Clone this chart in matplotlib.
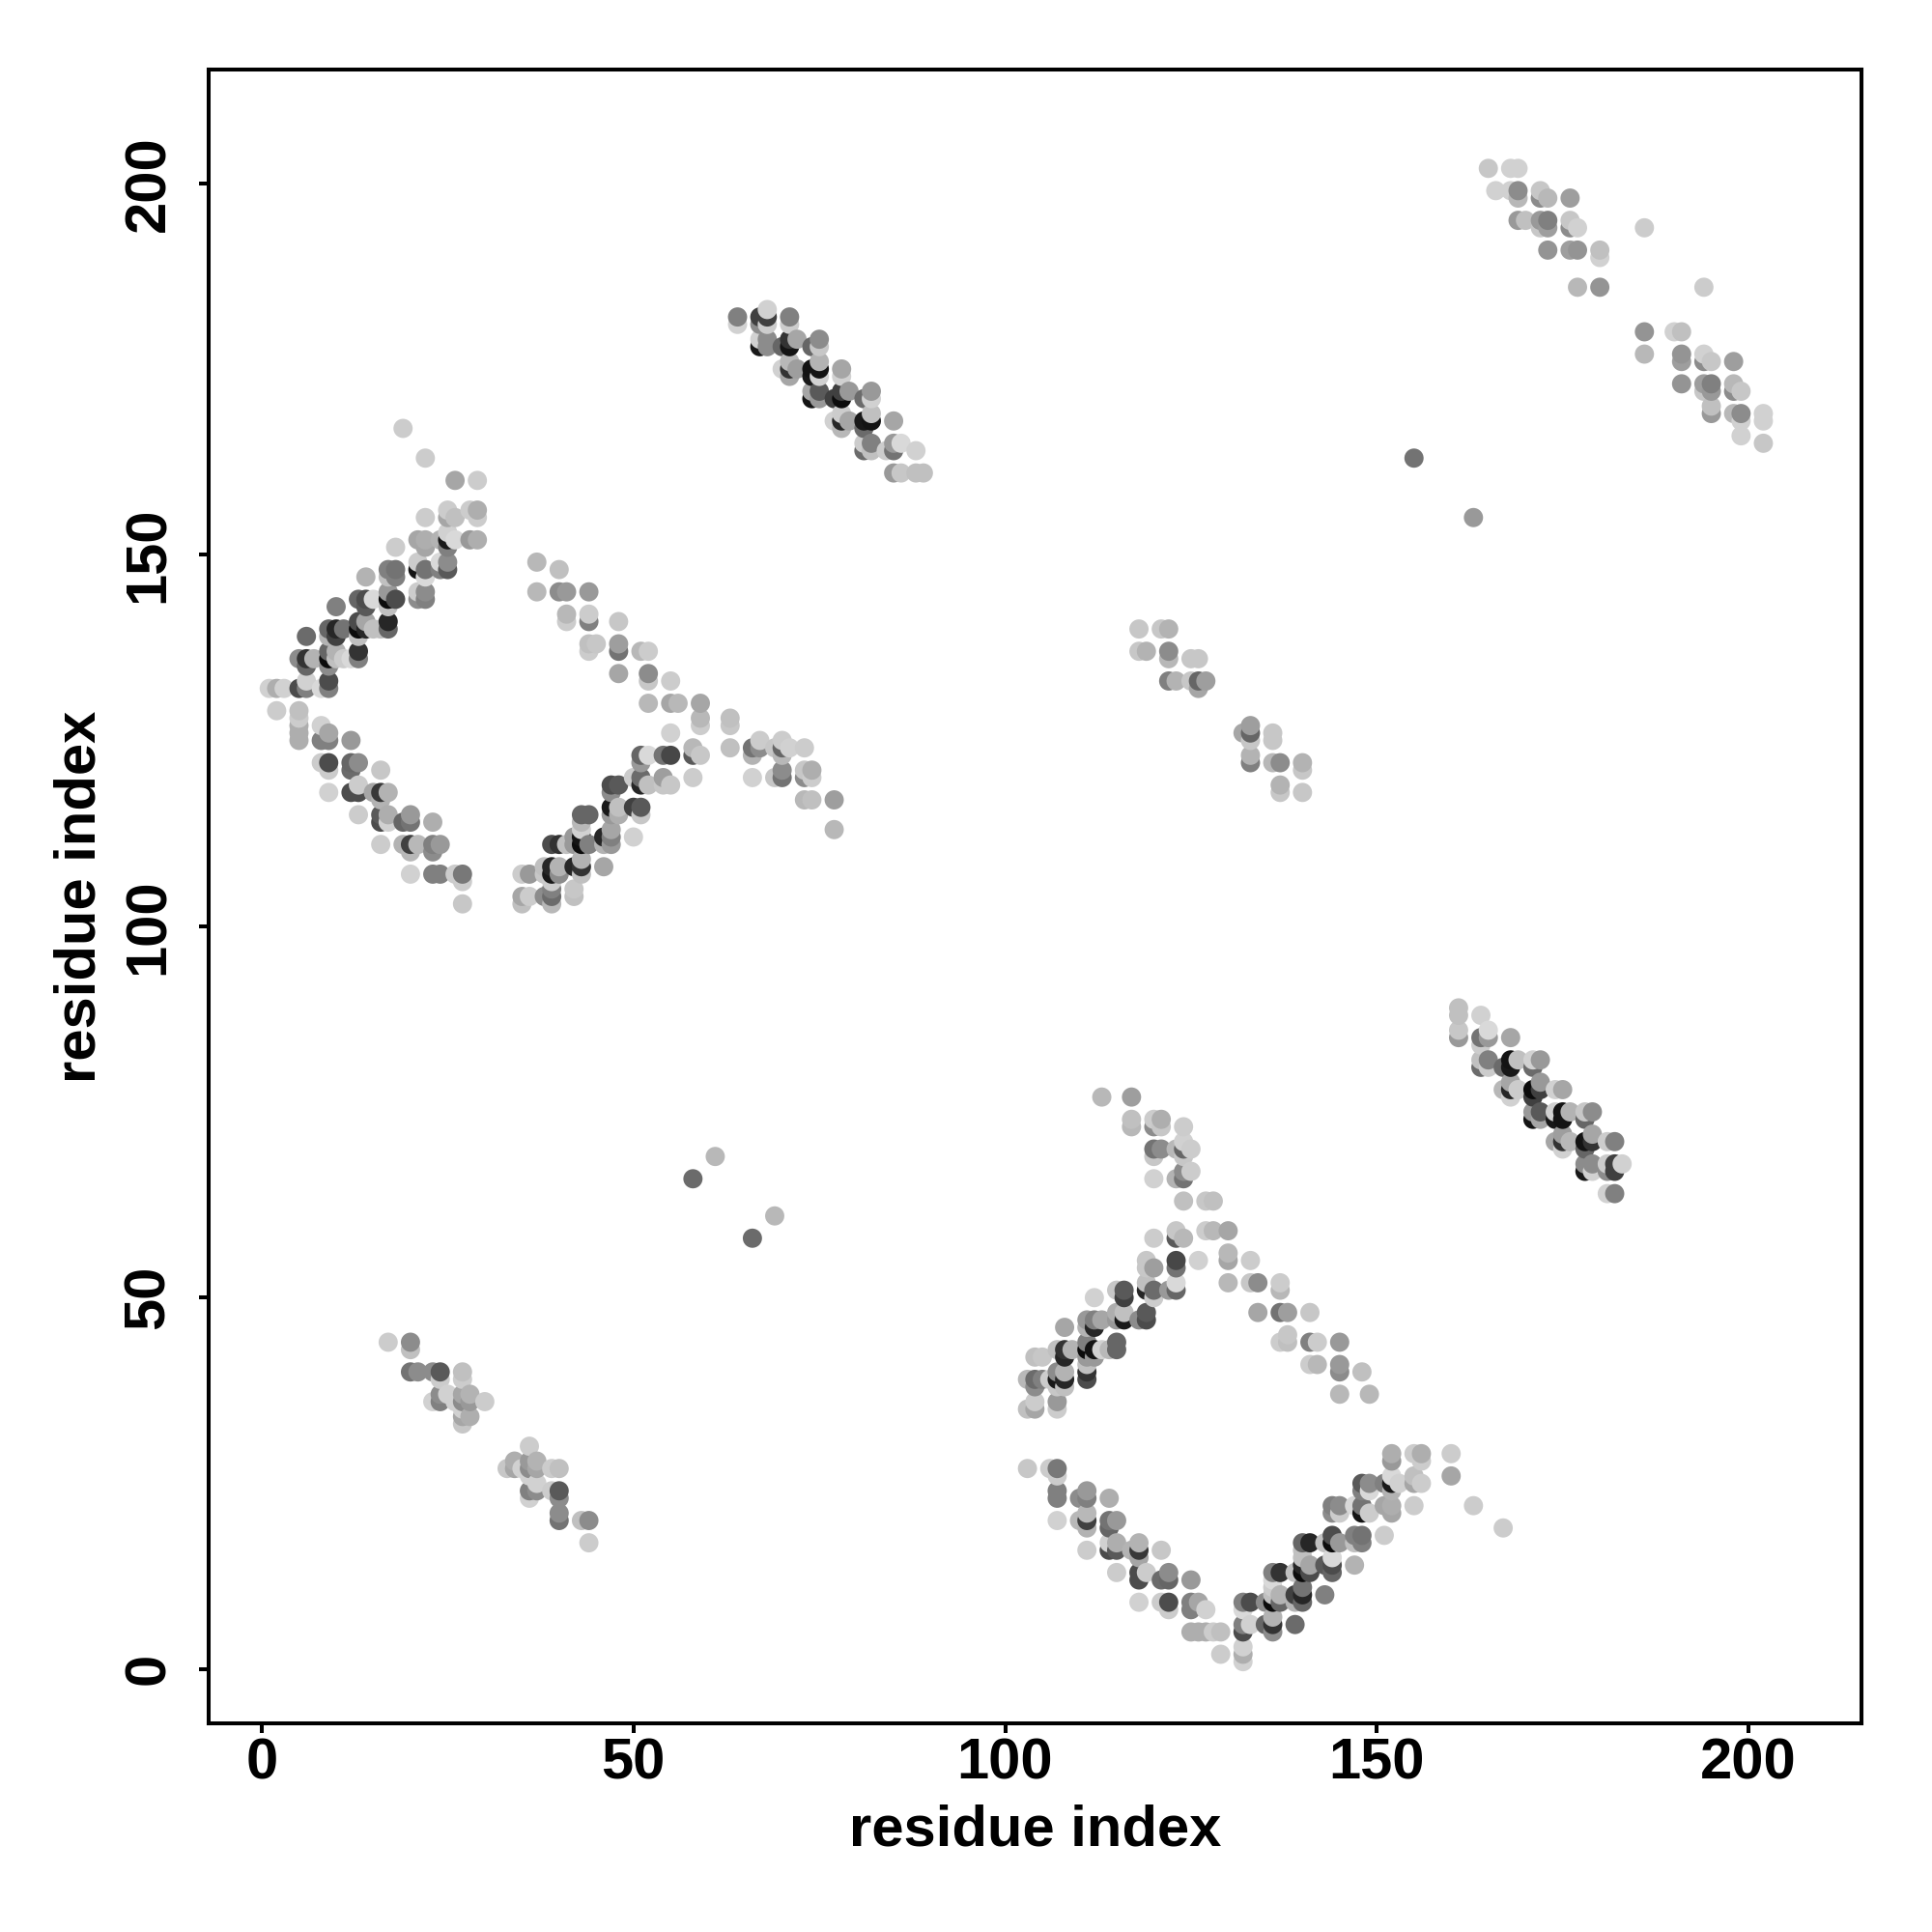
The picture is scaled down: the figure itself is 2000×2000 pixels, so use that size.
import numpy as np
import matplotlib
matplotlib.use("Agg")
import matplotlib.pyplot as plt

# contacts as (i, j, grey level), i > j. the map is symmetric so the other half is mirrored below
sheet_low = [
    (103,27,.78),(106,27,.8),(107,27,.47),(107,26,.8),(107,24,.5),(107,23,.5),(110,23,.55),(111,24,.6),
    (111,23,.5),(114,23,.68),(107,20,.82),(110,20,.72),(111,21,.72),(111,20,.25),(111,19,.7),(114,20,.45),
    (115,20,.6),(114,19,.4),(111,16,.8),(114,17,.82),(114,16,.3),(115,17,.68),(115,16,.35),(117,16,.7),
    (118,17,.7),(118,16,.22),(118,15,.65),(121,16,.78),(115,13,.8),(118,13,.3),(118,12,.3),(119,13,.8),
    (121,12,.42),(122,13,.55),(122,12,.4),(125,12,.6),(118,9,.82),(121,9,.8),(122,9,.3),(122,8,.8),
    (125,9,.5),(125,8,.5),(126,9,.65),(127,8,.82),(125,5,.68),(126,5,.68),(127,5,.68),(128,5,.8),
    (129,5,.75),(129,2,.8),
]
sheet_high = [
    (132,9,.5),(133,9,.3),(132,8,.85),(132,6,.5),(132,5,.3),(133,6,.82),(132,3,.82),(132,2,.68),(132,1,.82),
    (135,9,.55),(136,13,.5),(137,13,.2),(136,12,.85),(136,11,.8),(136,10,.75),(136,9,.05),(137,10,.7),(137,9,.4),
    (135,6,.4),(136,7,.7),(136,6,.2),(136,5,.55),(139,6,.42),(139,10,.25),(139,9,.7),(140,11,.45),(140,10,.15),
    (140,9,.4),(143,10,.5),(140,17,.4),(141,17,.15),(140,16,.75),(140,15,.75),(140,14,.15),(140,13,.05),
    (141,14,.65),(141,13,.3),(139,13,.75),(143,14,.35),(144,14,.3),(144,13,.4),(144,15,.85),(143,17,.75),
    (144,17,.05),(144,18,.3),(145,17,.6),(147,14,.7),(144,22,.5),(145,22,.55),(144,21,.55),(145,21,.8),
    (147,18,.5),(148,18,.45),(148,17,.5),(147,17,.75),(151,18,.8),(147,22,.85),(148,22,.45),(148,21,.08),
    (149,21,.8),(148,25,.35),(149,25,.55),(148,24,.5),(149,24,.85),(151,25,.5),(152,25,.1),(152,26,.85),
    (153,25,.82),(152,24,.7),(151,22,.65),(152,22,.68),(152,21,.65),(155,22,.8),(155,26,.75),(155,25,.65),
    (156,25,.8),(152,29,.68),(152,28,.6),(155,29,.8),(156,29,.68),(156,28,.8),(160,29,.8),(160,26,.65),
    (163,22,.8),(167,19,.8),
]
second_diag = [
    (103,39,.72),(104,39,.42),(105,39,.5),(106,39,.8),(104,38,.55),(103,35,.75),(104,36,.8),(104,35,.65),
    (104,42,.75),(105,42,.78),(107,36,.6),(107,35,.8),(107,40,.55),(108,40,.7),(107,39,.1),(108,39,.15),
    (107,38,.78),(108,38,.75),(108,46,.65),(107,43,.75),(108,43,.2),(109,43,.7),(108,42,.15),(111,47,.6),
    (112,47,.5),(113,47,.65),(111,46,.7),(112,46,.15),(111,44,.5),(111,43,.05),(112,43,.08),(113,43,.82),
    (111,42,.6),(112,42,.6),(111,41,.75),(111,40,.2),(111,39,.3),(112,50,.82),(114,43,.72),(115,44,.4),
    (115,43,.4),(115,51,.78),(116,51,.35),(116,50,.25),(115,48,.68),(116,48,.75),(115,47,.6),(116,47,.1),
    (118,47,.55),(119,48,.35),(119,47,.3),(119,55,.78),(120,54,.62),(119,54,.78),(119,52,.75),(119,51,.15),
    (120,51,.42),(120,50,.8),(120,58,.8),(122,51,.6),(123,52,.85),(123,51,.4),(123,55,.28),(123,54,.45),
    (123,59,.78),(123,58,.35),(124,58,.72),(126,55,.82),
]
second_diag_far = [
    (124,63,.75),(127,63,.78),(128,63,.75),(127,59,.8),(128,59,.72),(130,59,.65),(130,56,.72),(130,55,.65),
    (133,55,.8),(130,52,.72),(133,52,.78),(134,52,.55),(137,52,.8),(137,51,.72),(134,48,.65),(137,48,.45),
    (138,48,.62),(141,48,.78),(137,44,.8),(138,45,.78),(138,44,.75),(141,44,.5),(142,44,.8),(141,41,.8),
    (142,41,.72),(145,44,.6),(145,41,.6),(145,40,.55),(145,37,.72),(148,40,.75),(149,37,.72),
    (123,66,.7),(124,66,.45),(125,67,.8),(124,67,.55),(124,69,.78),(125,70,.8),(124,70,.4),(124,71,.82),
    (123,70,.72),(124,73,.8),(120,66,.82),(120,69,.78),(121,70,.55),(120,70,.45),(121,73,.78),(121,74,.68),
    (120,73,.55),(120,74,.8),(117,73,.72),(117,74,.75),(117,77,.62),(113,77,.72),
]
long_helix = [
    (161,89,.75),(161,88,.75),(161,86,.78),(161,85,.6),(164,88,.82),(164,85,.45),(165,86,.85),(165,85,.6),
    (164,84,.8),(168,85,.65),(164,82,.75),(164,81,.42),(165,82,.5),(165,81,.8),(167,81,.42),(168,82,.08),
    (168,81,.1),(169,82,.75),(171,82,.82),(172,82,.6),(171,81,.42),(167,78,.72),(168,79,.65),(168,78,.15),
    (169,78,.8),(168,77,.82),(171,78,.05),(172,79,.6),(172,78,.25),(171,77,.25),(174,78,.82),(175,78,.65),
    (171,75,.6),(172,75,.35),(171,74,.08),(172,74,.65),(174,75,.82),(174,74,.1),(175,75,.08),(175,74,.08),
    (176,75,.7),(178,75,.78),(179,75,.55),(178,74,.4),(174,71,.65),(175,72,.62),(175,71,.2),(176,71,.72),
    (175,70,.82),(178,71,.08),(179,72,.65),(179,71,.2),(178,70,.4),(181,71,.8),(182,71,.5),(178,68,.55),
    (179,68,.55),(178,67,.1),(179,67,.82),(181,68,.8),(181,67,.55),(182,68,.25),(182,67,.25),(183,68,.82),
    (181,64,.82),(182,64,.5),
]
corner_top = [
    (186,180,.58),(190,180,.82),(191,180,.75),(186,177,.72),(191,177,.58),(191,176,.62),(194,177,.82),
    (194,176,.55),(195,176,.78),(198,176,.62),(191,173,.58),(194,173,.62),(194,172,.78),(195,173,.5),
    (195,172,.6),(198,173,.72),(198,172,.55),(199,172,.78),(195,170,.75),(195,169,.6),(198,169,.72),
    (199,169,.55),(199,168,.82),(199,166,.82),(202,169,.82),(202,168,.82),(202,165,.78),(194,186,.8),
]
centre_patch = [
    (132,126,.65),(133,127,.62),(133,126,.4),(133,125,.78),(136,126,.78),(136,125,.78),(133,123,.7),
    (133,122,.5),(136,122,.72),(137,122,.55),(140,122,.7),(140,121,.78),(137,119,.7),(137,118,.78),(140,118,.78),
]
corner_low = [
    (33,27,.78),(34,28,.68),(34,27,.65),(35,27,.82),(36,30,.8),(36,28,.6),(36,27,.55),(37,28,.7),(37,27,.65),
    (36,26,.82),(37,25,.82),(36,24,.5),(37,24,.55),(36,23,.82),(39,27,.8),(40,27,.75),(39,24,.8),(40,24,.35),
    (40,23,.55),(40,21,.55),(40,20,.45),(43,20,.75),(44,20,.55),(44,17,.8),
]
lone_points = [(66,58,.42),(69,61,.72)]
# these two differ in shade between the halves, so no mirroring
one_sided = [(155,163,.45),(163,155,.6)]

tick_vals = [0, 50, 100, 150, 200]

rows = sheet_low + sheet_high + second_diag + second_diag_far + long_helix + corner_top + centre_patch + corner_low + lone_points
i_idx = np.array([r[0] for r in rows])
j_idx = np.array([r[1] for r in rows])
grey = np.array([r[2] for r in rows])

x = np.concatenate([i_idx, j_idx, [r[0] for r in one_sided]])
y = np.concatenate([j_idx, i_idx, [r[1] for r in one_sided]])
shade = np.concatenate([grey, grey, [r[2] for r in one_sided]])

# later residues are painted over earlier ones
order = np.lexsort((y, x))

plt.rcParams['font.family'] = ['Liberation Sans', 'DejaVu Sans']
plt.rcParams['font.weight'] = 'bold'

fig = plt.figure(figsize=(20, 20), dpi=100)
ax = fig.add_axes([216/2000, 216/2000, 1711/2000, 1712/2000])

ax.scatter(x[order], y[order], c=shade[order], cmap='gray', vmin=0, vmax=1, s=205, linewidths=0, zorder=2)

ax.set_xlim(-7.15, 215.2)
ax.set_ylim(-7.3, 215.3)
ax.set_xticks(tick_vals)
ax.set_yticks(tick_vals)
ax.tick_params(axis='both', length=7, width=2.9, labelsize=43)
ax.tick_params(axis='x', pad=3.5)
ax.tick_params(axis='y', pad=17.5)
plt.setp(ax.get_yticklabels(), rotation=90, va='center')
for s in ax.spines.values():
    s.set_linewidth(2.9)

ax.set_xlabel('residue index', fontsize=43, fontweight='bold')
ax.set_ylabel('residue index', fontsize=43, fontweight='bold')
ax.xaxis.set_label_coords(0.5, -0.049)
ax.yaxis.set_label_coords(-0.0618, 0.5)

fig.savefig('out.png', dpi=100)
